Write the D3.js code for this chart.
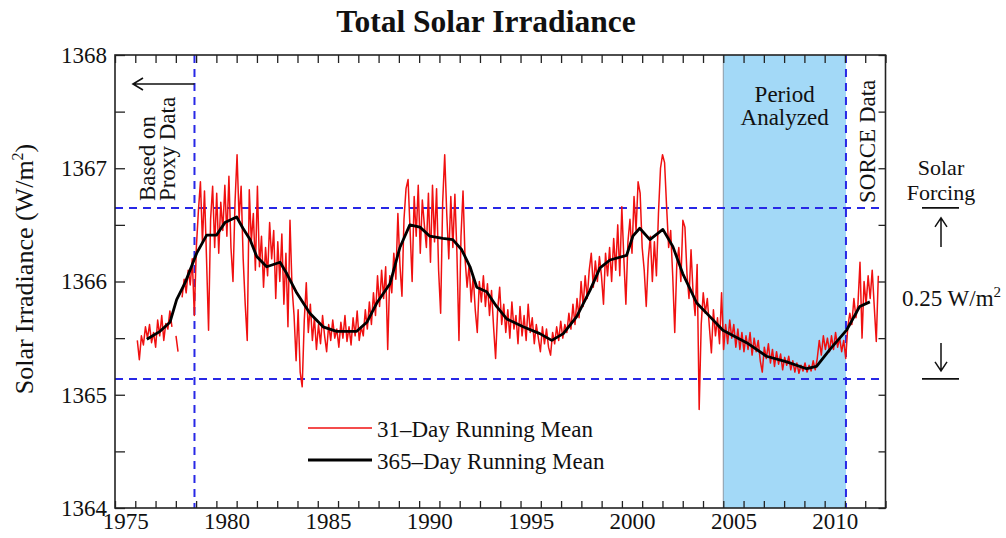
<!DOCTYPE html>
<html><head><meta charset="utf-8">
<script src="https://cdn.jsdelivr.net/npm/d3@7"></script>
<style>
body{margin:0;background:#fff}
svg{display:block;background:#fff}
text{font-family:"Liberation Serif","Times New Roman",serif;fill:#111}
</style>
</head><body>
<svg id="chart" width="1006" height="538"></svg>
<script>
// ---------------- data ----------------
const chartTitle = "Total Solar Irradiance";
const xDomain = [1975, 2013];
const yDomain = [1364, 1368];
const xLabelYears = [1975, 1980, 1985, 1990, 1995, 2000, 2005, 2010];
const yLabelValues = [1364, 1365, 1366, 1367, 1368];
const periodAnalyzed = [2005.0, 2011.05];
const dataBoundaryYears = [1978.92, 2011.05];
const forcingLevels = [1365.14, 1366.65];

// 31-day running mean, sampled every redStepYears from redStartYear (null = gap)
const redStartYear = 1976.0;
const redStepYears = 0.1004;
const red31 = [
/*1976*/ null,1365.48,1365.31,1365.52,1365.44,1365.60,1365.50,1365.62,1365.46,1365.55,
/*1977*/ 1365.42,1365.66,1365.52,1365.70,1365.48,1365.63,1365.58,1365.74,1365.60,null,
/*1978*/ 1365.52,1365.38,null,1365.86,1366.02,1365.90,1366.10,1365.97,1366.20,1365.70,
/*1979*/ 1366.30,1366.62,1366.88,1366.35,1366.80,1366.20,1365.57,1366.55,1366.84,1366.30,
/*1980*/ 1366.78,1366.25,1366.70,1366.45,1366.85,1366.40,1366.93,1366.30,1366.00,1366.70,
/*1981*/ 1367.12,1366.55,1366.84,1366.20,1365.80,1365.48,1366.81,1366.35,1366.60,1366.10,
/*1982*/ 1366.84,1366.13,1366.40,1365.95,1366.30,1366.05,1366.52,1366.20,1366.45,1365.85,
/*1983*/ 1366.35,1366.00,1366.42,1365.80,1366.25,1365.60,1366.54,1365.95,1365.70,1365.30,
/*1984*/ 1365.75,1365.20,1365.07,1365.65,1365.99,1365.55,1365.80,1365.48,1365.68,1365.40,
/*1985*/ 1365.62,1365.45,1365.70,1365.52,1365.38,1365.62,1365.48,1365.66,1365.50,1365.58,
/*1986*/ 1365.42,1365.64,1365.50,1365.70,1365.47,1365.60,1365.44,1365.68,1365.52,1365.74,
/*1987*/ 1365.48,1365.60,1365.52,1365.75,1365.58,1365.82,1365.62,1365.90,1365.70,1366.05,
/*1988*/ 1365.78,1366.10,1365.85,1366.13,1365.40,1366.05,1365.90,1366.25,1366.02,1366.60,
/*1989*/ 1366.15,1365.87,1366.55,1366.82,1366.90,1366.45,1366.00,1366.75,1366.40,1366.85,
/*1990*/ 1366.25,1366.72,1366.50,1366.30,1366.78,1366.17,1366.85,1366.35,1366.82,1366.10,
/*1991*/ 1365.72,1366.70,1367.12,1366.60,1366.20,1366.75,1366.30,1366.77,1366.25,1365.48,
/*1992*/ 1366.40,1366.80,1366.20,1365.95,1366.15,1365.82,1366.05,1365.75,1365.55,1366.00,
/*1993*/ 1365.82,1366.05,1365.78,1365.98,1365.70,1365.92,1365.60,1365.32,1365.75,1365.95,
/*1994*/ 1365.62,1365.80,1365.55,1365.75,1365.50,1365.82,1365.58,1365.70,1365.45,1365.78,
/*1995*/ 1365.52,1365.70,1365.48,1365.80,1365.55,1365.68,1365.45,1365.62,1365.50,1365.38,
/*1996*/ 1365.60,1365.45,1365.58,1365.42,1365.35,1365.55,1365.45,1365.60,1365.48,1365.65,
/*1997*/ 1365.50,1365.62,1365.55,1365.72,1365.58,1365.80,1365.62,1365.85,1365.68,1366.00,
/*1998*/ 1365.78,1366.05,1365.85,1366.10,1366.25,1365.95,1366.18,1366.00,1366.22,1366.05,
/*1999*/ 1365.80,1366.25,1366.05,1366.30,1366.00,1366.38,1366.10,1366.50,1366.05,1366.66,
/*2000*/ 1366.20,1365.80,1366.35,1366.55,1366.25,1366.75,1366.45,1366.88,1366.78,1366.30,
/*2001*/ 1366.10,1365.78,1366.20,1366.40,1366.00,1366.35,1366.05,1366.60,1367.00,1367.12,
/*2002*/ 1367.05,1366.66,1366.30,1366.45,1366.05,1365.55,1366.15,1366.30,1366.00,1366.54,
/*2003*/ 1366.48,1366.07,1365.85,1366.28,1365.90,1365.70,1366.15,1364.87,1365.62,1365.90,
/*2004*/ 1365.72,1365.85,1365.60,1365.37,1365.75,1365.52,1365.68,1365.45,1365.90,1365.40,
/*2005*/ 1365.62,1365.45,1365.66,1365.50,1365.62,1365.42,1365.58,1365.40,1365.55,1365.38,
/*2006*/ 1365.52,1365.40,1365.55,1365.35,1365.50,1365.38,1365.48,1365.30,1365.20,1365.42,
/*2007*/ 1365.32,1365.45,1365.28,1365.40,1365.25,1365.38,1365.27,1365.36,1365.22,1365.33,
/*2008*/ 1365.26,1365.34,1365.22,1365.30,1365.20,1365.28,1365.19,1365.26,1365.21,1365.28,
/*2009*/ 1365.20,1365.26,1365.21,1365.30,1365.22,1365.32,1365.48,1365.35,1365.52,1365.40,
/*2010*/ 1365.50,1365.38,1365.52,1365.40,1365.55,1365.42,1365.50,1365.38,1365.48,1365.32,
/*2011*/ 1365.60,1365.72,1365.62,1365.85,1365.68,1365.80,1366.17,1365.50,1366.00,1365.80,
/*2012*/ 1366.05,1365.85,1366.10,1365.78,1365.47,1366.05
];

// 365-day running mean
const blackYears = [1976.57,1977.22,1977.71,1978.04,1978.46,1979.03,1979.52,1980.01,1980.42,1981.00,
  1981.31,1981.66,1981.99,1982.48,1983.14,1983.47,1983.96,1984.61,1985.26,1985.93,
  1986.92,1987.42,1987.91,1988.56,1989.05,1989.54,1990.04,1990.53,1991.17,1991.66,
  1992.10,1992.51,1992.84,1993.33,1993.82,1994.32,1995.13,1995.95,1996.54,1997.11,
  1997.77,1998.42,1998.92,1999.41,2000.23,2000.54,2000.88,2001.38,2002.02,2002.51,
  2003.00,2003.69,2004.34,2004.98,2006.15,2007.13,2008.13,2009.11,2009.60,2010.26,
  2011.08,2011.73,2012.23];
const black365 = [1365.49,1365.56,1365.64,1365.84,1365.99,1366.25,1366.41,1366.41,1366.52,1366.57,
  1366.47,1366.37,1366.22,1366.13,1366.17,1366.07,1365.90,1365.72,1365.60,1365.56,
  1365.56,1365.64,1365.81,1365.98,1366.30,1366.50,1366.48,1366.40,1366.38,1366.37,
  1366.28,1366.13,1365.95,1365.91,1365.78,1365.67,1365.60,1365.54,1365.48,1365.54,
  1365.69,1365.92,1366.12,1366.19,1366.23,1366.40,1366.47,1366.37,1366.46,1366.31,
  1366.07,1365.81,1365.69,1365.57,1365.46,1365.34,1365.29,1365.23,1365.25,1365.40,
  1365.57,1365.78,1365.82];

const legendLabels = ["31\u2013Day Running Mean", "365\u2013Day Running Mean"];

// ---------------- drawing ----------------
const svg = d3.select("#chart");
const plot = {left: 115, right: 885.5, top: 55, bottom: 508};
const x = d3.scaleLinear().domain(xDomain).range([plot.left, plot.right]);
const y = d3.scaleLinear().domain(yDomain).range([plot.bottom, plot.top]);

const blue = "#2828e6";
const FS = 23;

// shaded period
svg.append("rect")
  .attr("x", x(periodAnalyzed[0])).attr("y", plot.top)
  .attr("width", x(periodAnalyzed[1]) - x(periodAnalyzed[0]))
  .attr("height", plot.bottom - plot.top)
  .attr("fill", "#a3d9f7");
svg.append("line")
  .attr("x1", x(periodAnalyzed[0])).attr("x2", x(periodAnalyzed[0]))
  .attr("y1", plot.top).attr("y2", plot.bottom)
  .attr("stroke", "#8a9aa6").attr("stroke-width", 1);

// dashed reference lines
svg.selectAll(".hdash").data(forcingLevels).enter().append("line")
  .attr("x1", plot.left).attr("x2", plot.right)
  .attr("y1", d => y(d)).attr("y2", d => y(d))
  .attr("stroke", blue).attr("stroke-width", 2).attr("stroke-dasharray", "8,6");
svg.selectAll(".vdash").data(dataBoundaryYears).enter().append("line")
  .attr("x1", d => x(d)).attr("x2", d => x(d))
  .attr("y1", plot.top).attr("y2", plot.bottom)
  .attr("stroke", blue).attr("stroke-width", 2).attr("stroke-dasharray", "8,6");

// series
const redPts = red31.map((v, i) => ({t: redStartYear + i * redStepYears, v}));
const redLine = d3.line().defined(d => d.v != null).x(d => x(d.t)).y(d => y(d.v));
svg.append("path").datum(redPts).attr("d", redLine)
  .attr("fill", "none").attr("stroke", "#f01010").attr("stroke-width", 1.5)
  .attr("stroke-linejoin", "round");

const blackPts = blackYears.map((t, i) => ({t, v: black365[i]}));
const blackLine = d3.line().x(d => x(d.t)).y(d => y(d.v));
svg.append("path").datum(blackPts).attr("d", blackLine)
  .attr("fill", "none").attr("stroke", "#000").attr("stroke-width", 2.8)
  .attr("stroke-linejoin", "round");

// axes
const yearTicks = d3.range(xDomain[0], xDomain[1] + 1);
const halfTicks = d3.range(yDomain[0], yDomain[1] + 0.01, 0.5);

function styleAxis(g) {
  g.select(".domain").remove();
  g.selectAll(".tick line").attr("stroke", "#222").attr("stroke-width", 1.3);
  g.selectAll("text").attr("font-size", FS).attr("fill", "#111")
    .attr("font-family", '"Liberation Serif","Times New Roman",serif');
}
svg.append("g").attr("transform", `translate(0,${plot.bottom})`)
  .call(d3.axisBottom(x).tickValues(yearTicks).tickSize(-7).tickFormat(""))
  .call(styleAxis);
svg.append("g").attr("transform", `translate(0,${plot.bottom})`)
  .call(d3.axisBottom(x).tickValues(xLabelYears.map(d => d + 0.5)).tickSize(0).tickPadding(5)
    .tickFormat(d => String(Math.floor(d))))
  .call(styleAxis);
svg.append("g").attr("transform", `translate(0,${plot.top})`)
  .call(d3.axisTop(x).tickValues(yearTicks).tickSize(-8).tickFormat(""))
  .call(styleAxis);
svg.append("g").attr("transform", `translate(${plot.left},0)`)
  .call(d3.axisLeft(y).tickValues(halfTicks).tickSize(-10).tickPadding(8)
    .tickFormat(d => yLabelValues.includes(d) ? String(d) : ""))
  .call(styleAxis);
svg.append("g").attr("transform", `translate(${plot.right},0)`)
  .call(d3.axisRight(y).tickValues(halfTicks).tickSize(-7).tickFormat(""))
  .call(styleAxis);

// frame
svg.append("rect").attr("x", plot.left).attr("y", plot.top)
  .attr("width", plot.right - plot.left).attr("height", plot.bottom - plot.top)
  .attr("fill", "none").attr("stroke", "#222").attr("stroke-width", 1.6);

// title
svg.append("text").attr("x", 486).attr("y", 32).attr("text-anchor", "middle")
  .attr("font-size", 31.5).attr("font-weight", "bold").text(chartTitle);

// y axis title
const yt = svg.append("text").attr("transform", "translate(33,269) rotate(-90)")
  .attr("text-anchor", "middle").attr("font-size", 26);
yt.append("tspan").text("Solar Irradiance (W/m");
yt.append("tspan").attr("font-size", 16).attr("dy", -10).text("2");
yt.append("tspan").attr("dy", 10).text(")");

// left annotation
svg.append("text").attr("transform", "translate(155,201) rotate(-90)")
  .attr("font-size", FS).text("Based on");
svg.append("text").attr("transform", "translate(175,201) rotate(-90)")
  .attr("font-size", FS).text("Proxy Data");
const ay = 84, ax0 = 133;
svg.append("path")
  .attr("d", `M${x(dataBoundaryYears[0])},${ay}H${ax0}M${ax0 + 10},${ay - 6}L${ax0},${ay}L${ax0 + 10},${ay + 6}`)
  .attr("fill", "none").attr("stroke", "#111").attr("stroke-width", 1.6);

// period analyzed
const pcx = (x(periodAnalyzed[0]) + x(periodAnalyzed[1])) / 2;
svg.append("text").attr("x", pcx).attr("y", 102).attr("text-anchor", "middle")
  .attr("font-size", FS).text("Period");
svg.append("text").attr("x", pcx).attr("y", 125).attr("text-anchor", "middle")
  .attr("font-size", FS).text("Analyzed");

// SORCE
svg.append("text").attr("transform", "translate(875,203) rotate(-90)")
  .attr("font-size", FS).text("SORCE Data");

// right annotation
const rcx = 941;
svg.append("text").attr("x", rcx).attr("y", 175).attr("text-anchor", "middle")
  .attr("font-size", 22).text("Solar");
svg.append("text").attr("x", rcx).attr("y", 200).attr("text-anchor", "middle")
  .attr("font-size", 22).text("Forcing");
svg.selectAll(".fbar").data(forcingLevels).enter().append("line")
  .attr("x1", rcx - 19).attr("x2", rcx + 18)
  .attr("y1", d => y(d)).attr("y2", d => y(d))
  .attr("stroke", "#111").attr("stroke-width", 1.6);
svg.append("path")
  .attr("d", `M${rcx},${y(forcingLevels[1]) + 39}V${y(forcingLevels[1]) + 10}M${rcx - 6},${y(forcingLevels[1]) + 19}L${rcx},${y(forcingLevels[1]) + 10}L${rcx + 6},${y(forcingLevels[1]) + 19}`)
  .attr("fill", "none").attr("stroke", "#111").attr("stroke-width", 1.5);
svg.append("path")
  .attr("d", `M${rcx},${y(forcingLevels[0]) - 36}V${y(forcingLevels[0]) - 8}M${rcx - 6},${y(forcingLevels[0]) - 17}L${rcx},${y(forcingLevels[0]) - 8}L${rcx + 6},${y(forcingLevels[0]) - 17}`)
  .attr("fill", "none").attr("stroke", "#111").attr("stroke-width", 1.5);
const ft = svg.append("text").attr("x", 902).attr("y", 306).attr("font-size", FS);
ft.append("tspan").text("0.25 W/m");
ft.append("tspan").attr("font-size", 15).attr("dy", -9).text("2");

// legend
const legendItems = [{label: legendLabels[0], color: "#f01010", w: 1.6, yy: 428},
                     {label: legendLabels[1], color: "#000", w: 2.8, yy: 460}];
const lg = svg.append("g");
lg.selectAll("line").data(legendItems).enter().append("line")
  .attr("x1", 308).attr("x2", 372).attr("y1", d => d.yy).attr("y2", d => d.yy)
  .attr("stroke", d => d.color).attr("stroke-width", d => d.w);
lg.selectAll("text").data(legendItems).enter().append("text")
  .attr("x", 377).attr("y", d => d.yy + 9).attr("font-size", FS).text(d => d.label);
</script>
</body></html>
